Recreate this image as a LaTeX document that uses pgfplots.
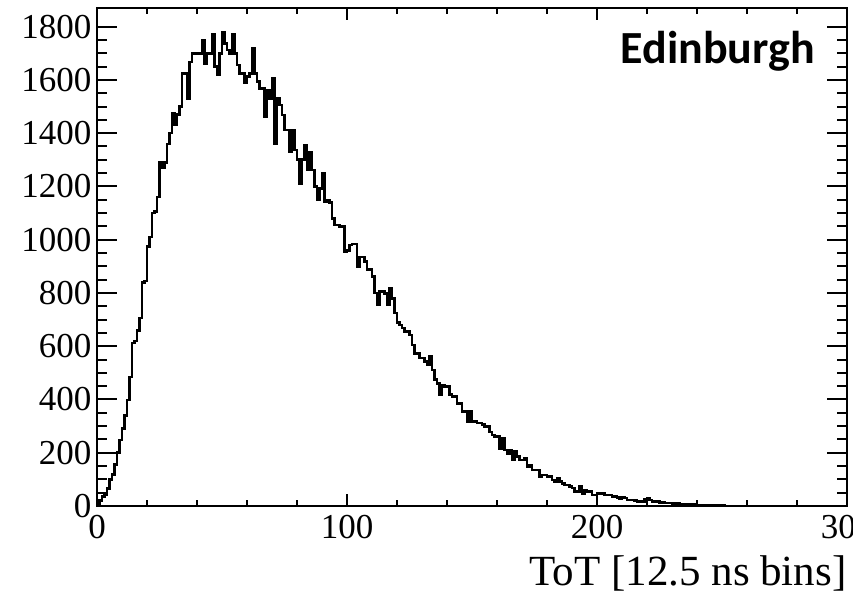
\documentclass[border=0pt]{standalone}
\usepackage{fontspec}
\setmainfont{Liberation Serif}
\newfontfamily\calib{Carlito}
\usepackage{pgfplots}
\pgfplotsset{compat=1.18}
\begin{document}
\begin{tikzpicture}
\begin{axis}[
  at={(97bp,88bp)}, anchor=south west,
  scale only axis, width=750bp, height=498bp,
  xmin=0, xmax=300, ymin=0, ymax=1870,
  xtick={0,100,200,300}, minor x tick num=4,
  ytick={0,200,...,1800}, minor y tick num=3,
  tick align=inside, xtick pos=both, ytick pos=both,
  major tick length=20bp, minor tick length=10bp,
  xtick style={/pgfplots/major tick length=12bp, /pgfplots/minor tick length=6bp},
  every tick/.style={black, line width=2bp},
  axis line style={line width=2.2bp},
  /pgf/number format/assume math mode=true,
  /pgf/number format/1000 sep={},
  ticklabel style={font=\fontsize{35bp}{40bp}\selectfont},
  yticklabel style={xshift=-2bp},
  xticklabel style={yshift=-6bp},
  clip=false,
]
\addplot[const plot, black, line width=2.6bp, line join=miter] coordinates {
(0,8)(1,20)(2,35)(3,42)(4,65)(5,100)(6,118)(7,155)(8,200)(9,248)
(10,292)(11,340)(12,398)(13,485)(14,612)(15,620)(16,660)(17,706)(18,840)(19,845)
(20,975)(21,1010)(22,1100)(23,1105)(24,1160)(25,1292)(26,1270)(27,1290)(28,1360)(29,1400)
(30,1475)(31,1430)(32,1470)(33,1500)(34,1625)(35,1625)(36,1530)(37,1667)(38,1700)(39,1700)
(40,1700)(41,1700)(42,1750)(43,1662)(44,1700)(45,1700)(46,1770)(47,1650)(48,1618)(49,1700)
(50,1778)(51,1737)(52,1712)(53,1700)(54,1772)(55,1700)(56,1656)(57,1625)(58,1625)(59,1590)
(60,1612)(61,1625)(62,1718)(63,1625)(64,1594)(65,1568)(66,1568)(67,1462)(68,1560)(69,1530)
(70,1606)(71,1362)(72,1531)(73,1506)(74,1468)(75,1412)(76,1412)(77,1331)(78,1412)(79,1337)
(80,1300)(81,1211)(82,1300)(83,1356)(84,1262)(85,1330)(86,1262)(87,1199)(88,1149)(89,1193)
(90,1250)(91,1143)(92,1149)(93,1140)(94,1080)(95,1055)(96,1055)(97,1049)(98,1049)(99,955)
(100,960)(101,980)(102,984)(103,984)(104,900)(105,935)(106,935)(107,918)(108,887)(109,887)
(110,862)(111,800)(112,755)(113,805)(114,805)(115,799)(116,755)(117,818)(118,780)(119,724)
(120,690)(121,680)(122,668)(123,655)(124,655)(125,642)(126,605)(127,573)(128,573)(129,555)
(130,555)(131,542)(132,530)(133,561)(134,511)(135,474)(136,461)(137,418)(138,455)(139,449)
(140,449)(141,418)(142,411)(143,411)(144,386)(145,386)(146,355)(147,355)(148,318)(149,355)
(150,318)(151,318)(152,311)(153,311)(154,305)(155,299)(156,299)(157,278)(158,267)(159,260)
(160,260)(161,216)(162,254)(163,210)(164,198)(165,210)(166,173)(167,205)(168,185)(169,173)
(170,173)(171,179)(172,148)(173,154)(174,135)(175,135)(176,135)(177,110)(178,117)(179,117)
(180,110)(181,110)(182,98)(183,92)(184,104)(185,92)(186,85)(187,79)(188,79)(189,73)
(190,67)(191,54)(192,54)(193,73)(194,48)(195,60)(196,54)(197,54)(198,42)(199,42)
(200,48)(201,48)(202,48)(203,42)(204,42)(205,42)(206,36)(207,36)(208,32)(209,29)
(210,32)(211,30)(212,22)(213,22)(214,22)(215,20)(216,16)(217,16)(218,18)(219,24)
(220,28)(221,22)(222,18)(223,16)(224,16)(225,14)(226,14)(227,12)(228,12)(229,11)
(230,10)(231,10)(232,9)(233,8)(234,8)(235,7)(236,6)(237,6)(238,5)(239,5)
(240,4)(241,4)(242,3)(243,3)(244,2)(245,2)(246,2)(247,1)(248,1)(249,1)
(250,1)(251,0)(300,0)
};
\node[anchor=base east, font=\calib\bfseries\fontsize{46bp}{52bp}\selectfont] at (axis cs:288.5,1663) {Edinburgh};
\node[anchor=base east, font=\fontsize{43bp}{48bp}\selectfont] at (rel axis cs:1.004,-0.16) {ToT [12.5 ns bins]};
\end{axis}
\pgfresetboundingbox
\path[use as bounding box] (0,0) rectangle (853bp,594bp);
\end{tikzpicture}
\end{document}
